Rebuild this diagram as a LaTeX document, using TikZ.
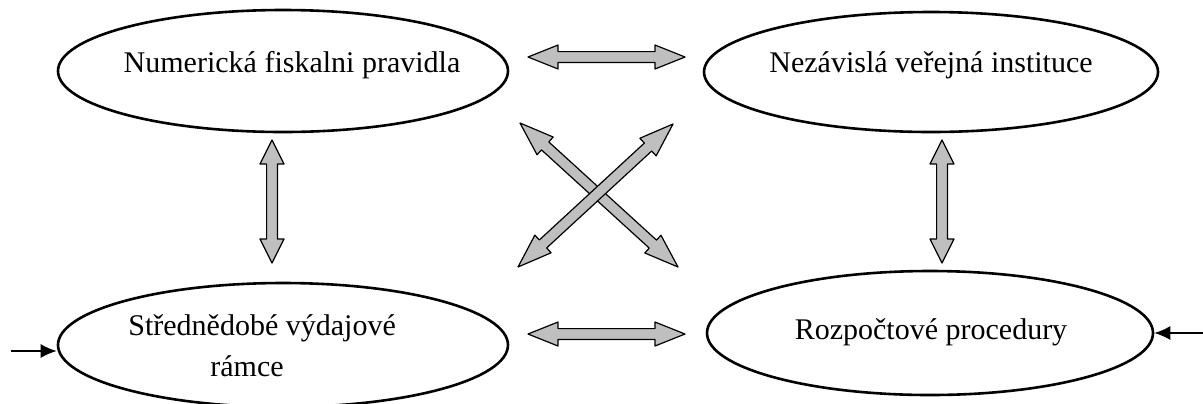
\documentclass[tikz,border=0pt]{standalone}
\usepackage{fontspec}
\setmainfont{Liberation Serif}
\usetikzlibrary{shapes.geometric,calc,arrows.meta}

\tikzset{
  blob/.style={draw, ellipse, line width=1.3pt, inner sep=0pt},
  lbl/.style={inner sep=0pt, font=\fontsize{15}{20.5}\selectfont},
  fatarrow/.style={fill=black!25, draw=black, line width=0.6pt, line join=round},
  feed/.style={-{Latex[length=8pt,width=7pt]}, line width=0.8pt},
}
% #1 head length, #2 and #3 the two tips
\newcommand{\dblarrow}[3][15pt]{%
  \filldraw[fatarrow] (#2)
    -- ($(#2)!#1!(#3)!6pt!90:(#3)$) -- ($(#2)!#1!(#3)!2.7pt!90:(#3)$)
    -- ($(#3)!#1!(#2)!2.7pt!-90:(#2)$) -- ($(#3)!#1!(#2)!6pt!-90:(#2)$)
    -- (#3)
    -- ($(#3)!#1!(#2)!6pt!90:(#2)$) -- ($(#3)!#1!(#2)!2.7pt!90:(#2)$)
    -- ($(#2)!#1!(#3)!2.7pt!-90:(#3)$) -- ($(#2)!#1!(#3)!6pt!-90:(#3)$)
    -- cycle;}

\begin{document}
\begin{tikzpicture}[x=0.5pt, y=-0.5pt]
\useasboundingbox (0,0) rectangle (1203,403);

\node [blob, minimum width=225pt, minimum height=61pt] (nfp) at (283,71) {};
\node [blob, minimum width=227pt, minimum height=60pt] (nvi) at (931,72) {};
\node [blob, minimum width=225pt, minimum height=62pt] (sdr) at (283,345) {};
\node [blob, minimum width=223pt, minimum height=62pt] (rpp) at (930,333) {};

\node [lbl, anchor=base] (nfp-t) at (292,72) {Numerická fiskalni pravidla};
\node [lbl, anchor=base] (nvi-t) at (931,72) {Nezávislá veřejná instituce};
\node [lbl, anchor=base] (rpp-t) at (931,339) {Rozpočtové procedury};
\node [lbl, anchor=base west, align=left] (sdr-t) at (128,376)
  {Střednědobé výdajové\\\hspace*{41pt}rámce};

\coordinate (top-l) at (528,57);
\coordinate (top-r) at (685,57);
\coordinate (bot-l) at (528,334);
\coordinate (bot-r) at (685,334);
\coordinate (lv-t) at (272,140);
\coordinate (lv-b) at (272,263);
\coordinate (rv-t) at (942,140);
\coordinate (rv-b) at (942,263);
\coordinate (x-nw) at (520,123);
\coordinate (x-se) at (678,267);
\coordinate (x-sw) at (518,267);
\coordinate (x-ne) at (673,124);

\dblarrow{top-l}{top-r}
\dblarrow{bot-l}{bot-r}
\dblarrow[12pt]{lv-t}{lv-b}
\dblarrow[12pt]{rv-t}{rv-b}
\dblarrow[17pt]{x-nw}{x-se}
\dblarrow[17pt]{x-sw}{x-ne}

\coordinate (sdr-in) at ($(sdr.west)+(-46,6)$);
\coordinate (rpp-in) at ($(rpp.east)+(50,0)$);
\draw [feed] (sdr-in) -- (sdr-in -| sdr.west);
\draw [feed] (rpp-in) -- (rpp.east);
\end{tikzpicture}
\end{document}
